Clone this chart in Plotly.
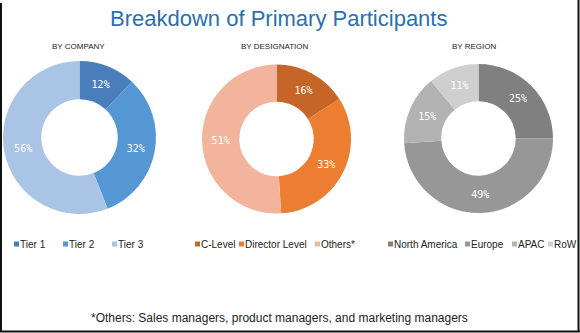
import plotly.graph_objects as go

W, H = 580, 333

# Data
company_labels = ["Tier 1", "Tier 2", "Tier 3"]
company_values = [12, 32, 56]
company_colors = ["#4a7ebb", "#5597d5", "#aac4e6"]

designation_labels = ["C-Level", "Director Level", "Others*"]
designation_values = [16, 33, 51]
designation_colors = ["#c56628", "#ed7d31", "#f2b49d"]

region_labels = ["North America", "Europe", "APAC", "RoW"]
region_values = [25, 49, 15, 11]
region_colors = ["#808080", "#979797", "#b2b2b2", "#cfcfcf"]

title_text = "Breakdown of Primary Participants"
subtitles = ["BY COMPANY", "BY DESIGNATION", "BY REGION"]
footnote = "*Others: Sales managers, product managers, and marketing managers"


def px_x(x):
    return x / W


def px_y(y):
    return 1 - y / H


def domain(x0, x1, y0, y1):
    return dict(x=[px_x(x0), px_x(x1)], y=[px_y(y1), px_y(y0)])


groups = [
    (company_labels, company_values, company_colors, domain(3, 156, 61, 214),
     [14, 63, 112]),
    (designation_labels, designation_values, designation_colors, domain(202, 351, 64, 214),
     [195, 239, 315]),
    (region_labels, region_values, region_colors, domain(404, 553, 64, 213),
     [388, 465, 512, 548]),
]

LEG_Y = 244
SW = 5  # swatch size in px

fig = go.Figure()
annotations = []
shapes = []

for labels, values, colors, dom, leg_x in groups:
    fig.add_trace(go.Pie(
        labels=labels,
        values=values,
        marker=dict(colors=colors, line=dict(width=0)),
        hole=0.5,
        sort=False,
        direction="clockwise",
        rotation=0,
        domain=dom,
        texttemplate="%{value}%",
        textposition="inside",
        insidetextorientation="horizontal",
        textfont=dict(family="DejaVu Sans Mono", size=10, color="white"),
        showlegend=False,
        hoverinfo="label+percent",
    ))
    # legend: square swatch + label
    for lab, col, lx in zip(labels, colors, leg_x):
        shapes.append(dict(
            type="rect", xref="paper", yref="paper",
            x0=px_x(lx), x1=px_x(lx + SW),
            y0=px_y(LEG_Y + SW / 2), y1=px_y(LEG_Y - SW / 2),
            fillcolor=col, line=dict(width=0),
        ))
        annotations.append(dict(
            x=px_x(lx + SW + 1), y=px_y(LEG_Y), xref="paper", yref="paper",
            xanchor="left", yanchor="middle", showarrow=False,
            borderpad=0, borderwidth=0,
            text=lab,
            font=dict(family="Liberation Sans", size=10, color="#222222"),
        ))

# Title
annotations.append(dict(
    x=px_x(278), y=px_y(18), xref="paper", yref="paper",
    xanchor="center", yanchor="middle", showarrow=False,
    text=title_text,
    font=dict(family="Liberation Sans", size=22, color="#2a6fb0"),
))

# Subtitles
for sub, cx in zip(subtitles, [78, 274, 474]):
    annotations.append(dict(
        x=px_x(cx), y=px_y(46), xref="paper", yref="paper",
        xanchor="center", yanchor="middle", showarrow=False,
        text=sub,
        font=dict(family="Liberation Sans", size=8, color="#222222"),
    ))

# Footnote
annotations.append(dict(
    x=px_x(279), y=px_y(318), xref="paper", yref="paper",
    xanchor="center", yanchor="middle", showarrow=False,
    text=footnote,
    font=dict(family="Liberation Sans", size=12, color="#222222"),
))

# Frame lines
shapes += [
    dict(type="line", xref="paper", yref="paper", x0=px_x(1), x1=px_x(1),
         y0=px_y(3), y1=px_y(332), line=dict(color="#111111", width=2)),
    dict(type="line", xref="paper", yref="paper", x0=px_x(578.5), x1=px_x(578.5),
         y0=px_y(0), y1=px_y(332), line=dict(color="#111111", width=2)),
    dict(type="line", xref="paper", yref="paper", x0=px_x(0), x1=px_x(580),
         y0=px_y(331.5), y1=px_y(331.5), line=dict(color="#111111", width=2)),
]

fig.update_layout(
    width=W, height=H,
    margin=dict(l=0, r=0, t=0, b=0),
    paper_bgcolor="white",
    plot_bgcolor="white",
    annotations=annotations,
    shapes=shapes,
)

fig.write_html("out.html", config={"displayModeBar": False})
